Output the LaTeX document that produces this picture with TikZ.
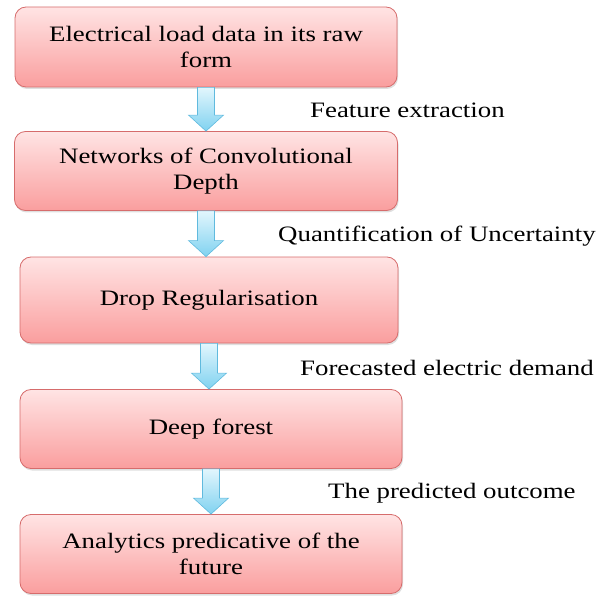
\documentclass[tikz,border=0pt]{standalone}
\usepackage{fontspec}
\setmainfont{Liberation Serif}[FakeStretch=1.22]
\usepackage{tikz}
\usetikzlibrary{calc,shadows}

\definecolor{boxtop}{RGB}{255,228,228}
\definecolor{boxbottom}{RGB}{250,158,158}
\definecolor{boxline}{RGB}{214,108,108}
\definecolor{arrtop}{RGB}{226,246,253}
\definecolor{arrbottom}{RGB}{128,210,240}
\definecolor{arrline}{RGB}{96,186,222}

\tikzset{
	stagebox/.style={draw=boxline, line width=0.8pt, rounded corners=11pt,
		top color=boxtop, bottom color=boxbottom, inner sep=0pt, align=center,
		font=\fontsize{22}{26}\selectfont,
		drop shadow={opacity=0.25, shadow xshift=1pt, shadow yshift=-2pt}},
	steplabel/.style={anchor=west, inner sep=0pt, font=\fontsize{22}{26}\selectfont},
	flowarrow/.style={draw=arrline, line width=0.6pt, top color=arrtop, bottom color=arrbottom}
}

% block arrow from the bottom of #1 down to the top of #2
\newcommand{\stagearrow}[2]{%
	\path[flowarrow] let \p1=(#1.south), \p2=(#2.north) in
		(\x1-8.5pt,\y1) -- (\x1+8.5pt,\y1) -- (\x1+8.5pt,\y2+16pt) -- (\x1+17.5pt,\y2+16pt)
		-- (\x1,\y2) -- (\x1-17.5pt,\y2+16pt) -- (\x1-8.5pt,\y2+16pt) -- cycle;}

\begin{document}
\begin{tikzpicture}[x=1pt,y=-1pt]
	\useasboundingbox (0,0) rectangle (605,596);

	% the five stages
	\node[stagebox, minimum width=382pt, minimum height=80pt] (raw) at (206,47) {Electrical load data in its raw\\form};
	\node[stagebox, minimum width=383pt, minimum height=79pt] (cnn) at (206,171) {Networks of Convolutional\\Depth};
	\node[stagebox, minimum width=378pt, minimum height=86pt] (drop) at (209,300) {Drop Regularisation};
	\node[stagebox, minimum width=382pt, minimum height=79pt] (forest) at (211,429) {Deep forest};
	\node[stagebox, minimum width=382pt, minimum height=79pt] (future) at (211,554) {Analytics predicative of the\\future};

	% arrows between stages
	\stagearrow{raw}{cnn}
	\stagearrow{cnn}{drop}
	\stagearrow{drop}{forest}
	\stagearrow{forest}{future}

	% side labels
	\node[steplabel] (featlbl) at (310,110) {Feature extraction};
	\node[steplabel] (uncertlbl) at (278,236) {Quantification of Uncertainty};
	\node[steplabel] (demandlbl) at (300,368) {Forecasted electric demand};
	\node[steplabel] (outcomelbl) at (328,493) {The predicted outcome};
\end{tikzpicture}
\end{document}
